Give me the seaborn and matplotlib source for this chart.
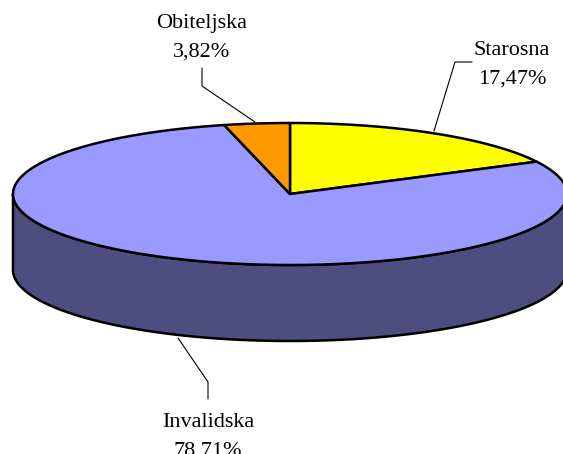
import numpy as np
import matplotlib
matplotlib.use('Agg')
import matplotlib.pyplot as plt
import seaborn as sns
from matplotlib.patches import Polygon

# Data (Excel-style order: clockwise from 12 o'clock)
labels = ['Starosna', 'Invalidska', 'Obiteljska']
shares = [17.47, 78.71, 3.82]
top_colors = ['#FFFF00', '#9999FF', '#FF9900']
side_colors = ['#808000', '#4D4D80', '#804C00']

# label anchors (x centre, baseline of first line) and leader lines, in pixels
label_pos = [(512, 55), (208, 427), (202, 28)]
line_gap = 28.5
leaders = [
    [(472, 62), (455, 62), (434, 131)],
    [(178, 338), (208, 382), (208, 399)],
    [(202, 68), (202, 86), (255, 122)],
]

sns.set_theme(style='white')
plt.rcParams['font.family'] = ['Liberation Serif', 'DejaVu Serif']

fig = plt.figure(figsize=(5.63, 4.54), dpi=100)
ax = fig.add_axes([0, 0, 1, 1])
ax.set_xlim(0, 563)
ax.set_ylim(454, 0)
ax.axis('off')

# ellipse geometry of the 3D pie
cx, cy, a, b, depth = 290, 194, 277, 71, 76


def ell(theta, dy=0):
    t = np.radians(theta)
    return np.column_stack([cx + a * np.cos(t), cy - b * np.sin(t) + dy])


# slice angles, clockwise from the top
cum = np.concatenate([[0], np.cumsum(shares)]) / sum(shares) * 360
starts = 90 - cum[:-1]
ends = 90 - cum[1:]

# front side wall: only the part between -180 and 0 degrees is visible
for s, e, sc in zip(starts, ends, side_colors):
    lo, hi = max(e, -180), min(s, 0)
    if hi <= lo:
        continue
    th = np.linspace(lo, hi, 200)
    pts = np.vstack([ell(th), ell(th[::-1], depth)])
    ax.add_patch(Polygon(pts, closed=True, facecolor=sc, edgecolor='black',
                         linewidth=1.8, joinstyle='round'))

# top face slices
for s, e, tc in zip(starts, ends, top_colors):
    th = np.linspace(s, e, 300)
    pts = np.vstack([[cx, cy], ell(th)])
    ax.add_patch(Polygon(pts, closed=True, facecolor=tc, edgecolor='black',
                         linewidth=1.8, joinstyle='round'))

# labels and leader lines
for lab, val, (tx, ty), line in zip(labels, shares, label_pos, leaders):
    pct = f"{val:.2f}%".replace('.', ',')
    ax.text(tx, ty, lab, ha='center', va='baseline', fontsize=16, color='black')
    ax.text(tx, ty + line_gap, pct, ha='center', va='baseline', fontsize=16,
            color='black')
    xs, ys = zip(*line)
    ax.plot(xs, ys, color='black', linewidth=0.8)

fig.savefig('out.png', dpi=100)
